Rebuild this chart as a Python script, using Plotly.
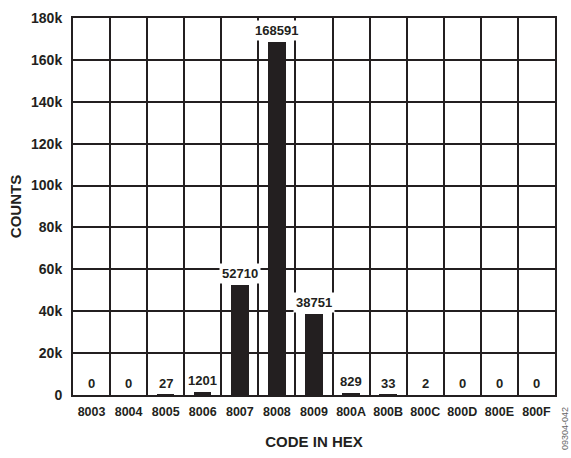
import plotly.graph_objects as go

codes = ["8003", "8004", "8005", "8006", "8007", "8008", "8009",
         "800A", "800B", "800C", "800D", "800E", "800F"]
counts = [0, 0, 27, 1201, 52710, 168591, 38751, 829, 33, 2, 0, 0, 0]
y_ticks = [0, 20000, 40000, 60000, 80000, 100000, 120000, 140000, 160000, 180000]
y_tick_text = ["0", "20k", "40k", "60k", "80k", "100k", "120k", "140k", "160k", "180k"]

FONT = "Liberation Sans, Arial, Helvetica, sans-serif"
INK = "#231f20"

fig = go.Figure()
fig.add_trace(go.Bar(
    x=codes, y=counts, width=0.47,
    marker=dict(color=INK, line=dict(width=0)),
    hoverinfo="x+y",
))

# value labels sit just above each bar on a white box that masks the grid
for i, v in enumerate(counts):
    fig.add_annotation(
        x=i, y=v, xref="x", yref="y",
        text=f"{v}", showarrow=False,
        yanchor="bottom", xanchor="center", yshift=1,
        bgcolor="white", borderpad=2,
        font=dict(family=FONT, size=13, color=INK, weight="bold"),
    )

fig.add_annotation(
    x=1.0, y=0.0, xref="paper", yref="paper",
    xanchor="center", yanchor="middle",
    xshift=10, yshift=-34, text="09304-042", showarrow=False,
    textangle=-90, font=dict(family=FONT, size=9, color="#666666"),
)

fig.update_layout(
    width=571, height=458,
    margin=dict(l=73, r=16, t=10, b=62),
    paper_bgcolor="white", plot_bgcolor="white",
    showlegend=False, bargap=0,
    xaxis=dict(
        type="category", tickson="boundaries",
        showgrid=True, gridcolor=INK, gridwidth=1.5,
        showline=True, linecolor=INK, linewidth=2, mirror=True,
        ticks="", ticklabelstandoff=4, tickangle=0,
        tickfont=dict(family=FONT, size=12.5, color=INK, weight="bold"),
        title=dict(text="CODE IN HEX", standoff=18,
                   font=dict(family=FONT, size=15, color=INK, weight="bold")),
        range=[-0.5, 12.5],
    ),
    yaxis=dict(
        range=[0, 180000], tickvals=y_ticks, ticktext=y_tick_text,
        showgrid=True, gridcolor=INK, gridwidth=1.5, zeroline=False,
        showline=True, linecolor=INK, linewidth=2, mirror=True,
        ticks="", ticklabelstandoff=6,
        tickfont=dict(family=FONT, size=14, color=INK, weight="bold"),
        title=dict(text="COUNTS", standoff=6,
                   font=dict(family=FONT, size=15, color=INK, weight="bold")),
    ),
)

fig.write_html("out.html")
